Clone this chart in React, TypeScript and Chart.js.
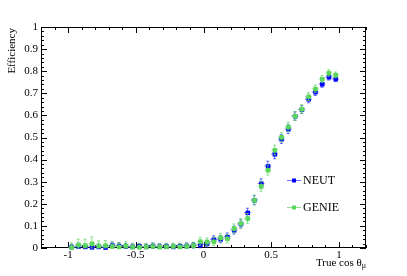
import React, { useEffect, useRef } from "react";
import { Chart, registerables } from "chart.js";
Chart.register(...registerables);

const binCenters = [
  -0.975, -0.925, -0.875, -0.825, -0.775, -0.725, -0.675, -0.625, -0.575, -0.525,
  -0.475, -0.425, -0.375, -0.325, -0.275, -0.225, -0.175, -0.125, -0.075, -0.025,
  0.025, 0.075, 0.125, 0.175, 0.225, 0.275, 0.325, 0.375, 0.425, 0.475,
  0.525, 0.575, 0.625, 0.675, 0.725, 0.775, 0.825, 0.875, 0.925, 0.975,
];
const binHalfWidth = 0.025;

const neutEff = [
  0.005, 0.008, 0.006, 0.004, 0.006, 0.003, 0.012, 0.01, 0.008, 0.006,
  0.009, 0.006, 0.01, 0.007, 0.008, 0.006, 0.009, 0.01, 0.012, 0.015,
  0.02, 0.039, 0.04, 0.051, 0.081, 0.109, 0.16, 0.217, 0.292, 0.371,
  0.425, 0.493, 0.538, 0.597, 0.627, 0.674, 0.706, 0.742, 0.774, 0.765,
];
const neutErr = [
  0.012, 0.014, 0.012, 0.012, 0.012, 0.012, 0.014, 0.014, 0.012, 0.012,
  0.012, 0.012, 0.013, 0.012, 0.012, 0.012, 0.012, 0.013, 0.013, 0.014,
  0.015, 0.016, 0.016, 0.017, 0.018, 0.019, 0.02, 0.021, 0.021, 0.022,
  0.021, 0.02, 0.02, 0.019, 0.018, 0.017, 0.016, 0.015, 0.014, 0.012,
];
const genieEff = [
  0.003, 0.015, 0.012, 0.02, 0.01, 0.012, 0.008, 0.006, 0.01, 0.005,
  0.004, 0.006, 0.008, 0.005, 0.006, 0.008, 0.006, 0.008, 0.012, 0.03,
  0.028, 0.029, 0.047, 0.043, 0.089, 0.112, 0.134, 0.217, 0.28, 0.353,
  0.443, 0.502, 0.548, 0.597, 0.629, 0.685, 0.72, 0.765, 0.792, 0.783,
];
const genieErr = [
  0.02, 0.025, 0.028, 0.03, 0.022, 0.022, 0.02, 0.018, 0.018, 0.016,
  0.015, 0.015, 0.015, 0.014, 0.014, 0.014, 0.014, 0.014, 0.015, 0.018,
  0.017, 0.018, 0.018, 0.019, 0.02, 0.021, 0.022, 0.022, 0.023, 0.023,
  0.022, 0.021, 0.021, 0.02, 0.019, 0.018, 0.017, 0.016, 0.015, 0.013,
];

const xTickValues = [-1, -0.5, 0, 0.5, 1];
const yTickValues = [0, 0.1, 0.2, 0.3, 0.4, 0.5, 0.6, 0.7, 0.8, 0.9, 1];
const seriesNames = ["NEUT", "GENIE"];

const BLUE = "rgb(0,0,255)";
const BLUE_ERR = "rgba(60,60,255,0.75)";
const GREEN = "rgb(90,215,90)";
const GREEN_ERR = "rgba(90,215,90,0.7)";
const FONT = "'Liberation Serif', 'DejaVu Serif', serif";

const errPlugin = {
  id: "rootStyle",
  beforeDatasetsDraw(chart: any) {
    const ctx = chart.ctx;
    const xs = chart.scales.x;
    const ys = chart.scales.y;
    const { left, right, top, bottom } = chart.chartArea;
    ctx.save();
    ctx.strokeStyle = "#000";
    ctx.lineWidth = 1;
    ctx.strokeRect(left + 0.5, top + 0.5, right - left - 1, bottom - top - 1);
    for (let i = -12; i <= 12; i++) {
      const v = i / 10;
      const px = Math.round(xs.getPixelForValue(v)) + 0.5;
      const major = i % 5 === 0;
      const len = major ? 6 : 3;
      ctx.beginPath();
      ctx.moveTo(px, bottom);
      ctx.lineTo(px, bottom - len);
      ctx.moveTo(px, top);
      ctx.lineTo(px, top + len);
      ctx.stroke();
    }
    for (let i = 0; i <= 50; i++) {
      const v = i / 50;
      const py = Math.round(ys.getPixelForValue(v)) + 0.5;
      const major = i % 5 === 0;
      const len = major ? 6 : 3;
      ctx.beginPath();
      ctx.moveTo(left, py);
      ctx.lineTo(left + len, py);
      ctx.moveTo(right, py);
      ctx.lineTo(right - len, py);
      ctx.stroke();
    }
    ctx.restore();
  },
  afterDatasetsDraw(chart: any) {
    const ctx = chart.ctx;
    const xs = chart.scales.x;
    const ys = chart.scales.y;
    const series = [
      { eff: neutEff, err: neutErr, col: BLUE, ecol: BLUE_ERR },
      { eff: genieEff, err: genieErr, col: GREEN, ecol: GREEN_ERR },
    ];
    ctx.save();
    series.forEach((s) => {
      binCenters.forEach((x, i) => {
        const px = xs.getPixelForValue(x);
        const py = ys.getPixelForValue(s.eff[i]);
        const pyLo = ys.getPixelForValue(Math.max(0, s.eff[i] - s.err[i]));
        const pyHi = ys.getPixelForValue(s.eff[i] + s.err[i]);
        const pxL = xs.getPixelForValue(x - binHalfWidth);
        const pxR = xs.getPixelForValue(x + binHalfWidth);
        ctx.strokeStyle = s.ecol;
        ctx.lineWidth = 1;
        ctx.beginPath();
        ctx.moveTo(px, pyLo);
        ctx.lineTo(px, pyHi);
        ctx.moveTo(pxL, py);
        ctx.lineTo(pxR, py);
        ctx.moveTo(px - 1.5, pyHi);
        ctx.lineTo(px + 1.5, pyHi);
        ctx.moveTo(px - 1.5, pyLo);
        ctx.lineTo(px + 1.5, pyLo);
        ctx.stroke();
        ctx.fillStyle = s.col;
        ctx.fillRect(px - 2, py - 2, 4.5, 4.5);
      });
    });
    const legendY = [180, 207];
    const cols = [BLUE, GREEN];
    const ecols = [BLUE_ERR, GREEN_ERR];
    seriesNames.forEach((name, i) => {
      const y = legendY[i];
      ctx.strokeStyle = ecols[i];
      ctx.beginPath();
      ctx.moveTo(287, y + 0.5);
      ctx.lineTo(301, y + 0.5);
      ctx.stroke();
      ctx.fillStyle = cols[i];
      ctx.fillRect(292, y - 1.5, 4, 4);
      ctx.fillStyle = "#000";
      ctx.font = `12px ${FONT}`;
      ctx.textBaseline = "middle";
      ctx.textAlign = "left";
      ctx.fillText(name, 303, y + 1);
    });
    ctx.fillStyle = "#000";
    ctx.textBaseline = "alphabetic";
    const sub = "\u03bc";
    ctx.font = `8px ${FONT}`;
    const subW = ctx.measureText(sub).width;
    ctx.textAlign = "right";
    ctx.fillText(sub, 366, 268);
    ctx.font = `11px ${FONT}`;
    ctx.fillText("True cos \u03b8", 366 - subW, 266);
    ctx.save();
    ctx.translate(15, 28);
    ctx.rotate(-Math.PI / 2);
    ctx.textAlign = "right";
    ctx.textBaseline = "alphabetic";
    ctx.font = `11px ${FONT}`;
    ctx.fillText("Efficiency", 0, 0);
    ctx.restore();
    ctx.restore();
  },
};

export default function App() {
  const ref = useRef<HTMLCanvasElement | null>(null);
  useEffect(() => {
    if (!ref.current) return;
    const chart = new Chart(ref.current, {
      type: "scatter",
      data: {
        datasets: [
          { label: seriesNames[0], data: binCenters.map((x, i) => ({ x, y: neutEff[i] })), pointRadius: 0, showLine: false },
          { label: seriesNames[1], data: binCenters.map((x, i) => ({ x, y: genieEff[i] })), pointRadius: 0, showLine: false },
        ],
      },
      options: {
        animation: false,
        responsive: false,
        maintainAspectRatio: false,
        layout: { padding: { top: 27, right: 41, left: 0, bottom: 0 } },
        plugins: { legend: { display: false }, tooltip: { enabled: false } },
        scales: {
          x: {
            type: "linear",
            min: -1.2,
            max: 1.2,
            grid: { display: false, drawTicks: false },
            border: { display: false },
            afterBuildTicks: (s: any) => {
              s.ticks = xTickValues.map((v) => ({ value: v }));
            },
            afterFit: (s: any) => {
              s.height = 28;
            },
            ticks: {
              color: "#000",
              font: { family: FONT, size: 11 },
              padding: 1,
              maxRotation: 0,
              autoSkip: false,
              callback: (v: any) => String(v),
            },
          },
          y: {
            type: "linear",
            min: 0,
            max: 1,
            grid: { display: false, drawTicks: false },
            border: { display: false },
            afterBuildTicks: (s: any) => {
              s.ticks = yTickValues.map((v) => ({ value: v }));
            },
            afterFit: (s: any) => {
              s.width = 41;
            },
            ticks: {
              color: "#000",
              font: { family: FONT, size: 11 },
              padding: 3,
              autoSkip: false,
              callback: (v: any) => String(v),
            },
          },
        },
      },
      plugins: [errPlugin],
    });
    return () => chart.destroy();
  }, []);
  return (
    <div style={{ position: "fixed", left: 0, top: 0, width: 407, height: 276, background: "#fff" }}>
      <canvas ref={ref} width={407} height={276} style={{ width: 407, height: 276 }} />
    </div>
  );
}
